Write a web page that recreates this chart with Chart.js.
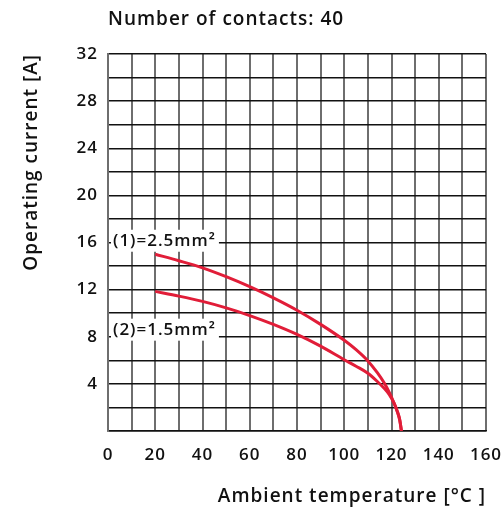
<!DOCTYPE html>
<html>
<head>
<meta charset="utf-8">
<script src="https://cdn.jsdelivr.net/npm/chart.js@4.4.0/dist/chart.umd.min.js"></script>
<style>
  html, body { margin: 0; padding: 0; background: #fff; }
  #wrap { width: 503px; height: 512px; position: relative; }
</style>
</head>
<body>
<div id="wrap"><canvas id="myChart1"></canvas></div>
<script>
// values
var chartTitle = 'Number of contacts: 40';
var seriesNames = ['(1)=2.5mm²', '(2)=1.5mm²'];
var temps1 = [20, 30, 40, 50, 60, 70, 80, 90, 100, 105, 110, 114, 117, 119, 121, 122.5, 123.5, 124.2];
var current1 = [15.0, 14.45, 13.85, 13.1, 12.25, 11.3, 10.25, 9.05, 7.7, 6.9, 5.95, 4.95, 4.05, 3.3, 2.4, 1.6, 0.9, 0];
var temps2 = [20, 30, 40, 50, 60, 70, 80, 90, 100, 105, 110, 114, 117, 119, 121, 122.5, 123.5, 124.2];
var current2 = [11.85, 11.45, 11.0, 10.45, 9.8, 9.05, 8.2, 7.2, 6.05, 5.5, 4.9, 4.2, 3.6, 3.1, 2.4, 1.65, 0.95, 0];
var xTicks = [0, 20, 40, 60, 80, 100, 120, 140, 160];
var yTicks = [4, 8, 12, 16, 20, 24, 28, 32];

var red = '#e11d38';
var fontFam = "'Open Sans', 'Noto Sans', sans-serif";

function pts(xs, ys) {
    return xs.map(function (x, i) { return { x: x, y: ys[i] }; });
}

// the picture's font is wide, so text gets a little letter spacing
var spacingPlugin = {
    id: 'spacingPlugin',
    beforeDraw: function (chart) { chart.ctx.letterSpacing = '1px'; }
};

// title + series labels drawn on the canvas
var labelsPlugin = {
    id: 'labelsPlugin',
    afterDraw: function (chart) {
        const { ctx, scales: { x, y } } = chart;
        ctx.save();
        ctx.letterSpacing = '1px';
        ctx.fillStyle = '#111';
        ctx.font = '600 19px ' + fontFam;
        ctx.textAlign = 'left';
        ctx.textBaseline = 'middle';
        ctx.fillText(chartTitle, x.getPixelForValue(0), 20);

        ctx.font = '600 17px ' + fontFam;
        var at = [16.15, 8.6];
        for (let i = 0; i < seriesNames.length; i++) {
            const left = x.getPixelForValue(0) + 3;
            const cy = y.getPixelForValue(at[i]);
            const w = ctx.measureText(seriesNames[i]).width;
            ctx.fillStyle = '#fff';
            ctx.fillRect(left, cy - 11, w + 5, 22);
            ctx.fillStyle = '#111';
            ctx.fillText(seriesNames[i], left + 2, cy);
        }
        ctx.restore();
    }
};

var options = {
    maintainAspectRatio: false,
    responsive: true,
    animation: false,
    plugins: { legend: { display: false }, tooltip: { enabled: false } },
    layout: { padding: { top: 54, right: 17, left: 0, bottom: 0 } },
    elements: { point: { radius: 0 } },
    scales: {
        x: {
            type: 'linear',
            min: 0,
            max: 160,
            afterFit: function (scale) {
                scale.height = 81;
                scale.paddingLeft = 0;
                scale.paddingRight = 0;
            },
            afterBuildTicks: function (scale) {
                var t = [];
                for (let v = 0; v <= 160; v += 10) t.push({ value: v });
                scale.ticks = t;
            },
            ticks: {
                padding: 14,
                color: '#111',
                font: { size: 17, weight: '600', family: fontFam },
                maxRotation: 0,
                autoSkip: false,
                callback: function (v) { return xTicks.indexOf(v) >= 0 ? String(v) : ''; }
            },
            grid: { color: '#6e6e6e', lineWidth: 2, drawTicks: false },
            border: { display: true, color: '#111', width: 1.5 },
            title: {
                display: true,
                text: 'Ambient temperature [°C ]',
                align: 'end',
                color: '#111',
                font: { size: 19, weight: '600', family: fontFam },
                padding: { top: 0, bottom: 4 }
            }
        },
        y: {
            min: 0,
            max: 32,
            afterFit: function (scale) { scale.width = 108; },
            afterBuildTicks: function (scale) {
                var t = [];
                for (let v = 0; v <= 32; v += 2) t.push({ value: v });
                scale.ticks = t;
            },
            ticks: {
                padding: 10,
                color: '#111',
                font: { size: 17, weight: '600', family: fontFam },
                autoSkip: false,
                callback: function (v) { return yTicks.indexOf(v) >= 0 ? String(v) : ''; }
            },
            grid: { color: '#111', lineWidth: 1.5, drawTicks: false },
            border: { display: true, color: '#6e6e6e', width: 2 },
            title: {
                display: true,
                text: 'Operating current [A]',
                align: 'end',
                color: '#111',
                font: { size: 19, weight: '600', family: fontFam },
                padding: { top: 20, bottom: 0 }
            }
        }
    }
};

const dataCur = {
    datasets: [{
        label: seriesNames[0],
        data: pts(temps1, current1),
        borderColor: red,
        borderWidth: 3,
        fill: false,
        cubicInterpolationMode: 'monotone'
    }, {
        label: seriesNames[1],
        data: pts(temps2, current2),
        borderColor: red,
        borderWidth: 3,
        fill: false,
        cubicInterpolationMode: 'monotone'
    }]
};

new Chart('myChart1', {
    type: 'line',
    data: dataCur,
    options: options,
    plugins: [spacingPlugin, labelsPlugin]
});
</script>
</body>
</html>
